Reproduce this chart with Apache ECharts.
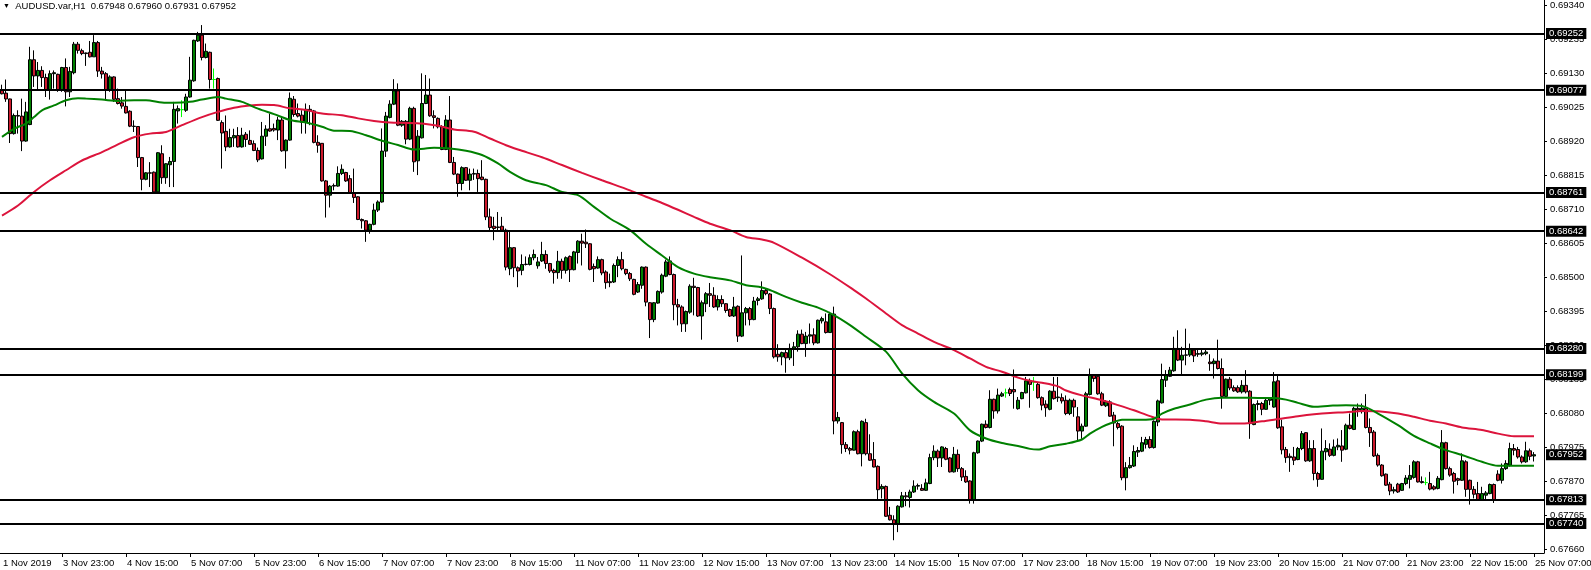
<!DOCTYPE html>
<html><head><meta charset="utf-8">
<script src="https://cdn.jsdelivr.net/npm/echarts@6/dist/echarts.min.js"></script>
<style>html,body{margin:0;padding:0;background:#fff}#c{width:1591px;height:570px}</style>
</head><body><div id="c"></div>
<script>
// Prices in points (1 point = 0.00001)
const symbolName = 'AUDUSD.var,H1';
const opens = [
69077,69068,69050,68943,68999,68997,68920,68971,69171,69121,
69138,69116,69077,69128,69126,69077,69147,69072,69131,69219,
69199,69192,69194,69180,69224,69136,69128,69077,69118,69051,
69038,69027,69012,68966,68965,68869,68802,68822,68824,68763,
68881,68807,68847,68857,69013,69017,69015,69056,69106,69229,
69247,69178,69194,69110,69113,68977,68950,68902,68930,68937,
68902,68941,68922,68912,68891,68865,68935,68958,68959,68954,
68985,68890,68923,69049,69005,69000,68978,69018,69013,68916,
68913,68797,68753,68781,68781,68820,68823,68804,68760,68748,
68678,68674,68645,68663,68707,68732,68889,68993,69034,69075,
68969,68981,68926,69021,68859,68930,69036,69062,68998,68990,
68964,68894,68985,68854,68818,68789,68838,68799,68818,68820,
68809,68802,68686,68657,68655,68657,68645,68526,68591,68529,
68521,68539,68539,68560,68535,68550,68570,68542,68521,68514,
68549,68521,68564,68523,68576,68611,68608,68603,68533,68528,
68554,68516,68486,68485,68536,68554,68524,68511,68493,68454,
68475,68531,68421,68369,68420,68454,68503,68550,68508,68415,
68408,68356,68392,68472,68468,68380,68418,68449,68444,68408,
68431,68418,68400,68380,68410,68318,68390,68403,68369,68428,
68433,68459,68448,68403,68262,68254,68267,68251,68280,68285,
68324,68295,68318,68322,68297,68365,68362,68329,68386,68056,
68051,67983,67971,67966,68023,67955,68051,67955,67937,67916,
67847,67854,67765,67751,67739,67791,67825,67820,67837,67855,
67848,67842,67863,67943,67963,67942,67971,67942,67899,67953,
67909,67885,67871,67811,67958,67994,68046,68036,68123,68087,
68133,68143,68153,68153,68094,68125,68143,68180,68176,68169,
68128,68108,68092,68148,68128,68128,68120,68079,68120,68069,
68025,68040,68138,68197,68194,68140,68103,68115,68074,68048,
68040,67881,67912,67917,67960,67963,67984,67999,67974,68053,
68112,68182,68194,68211,68280,68244,68259,68260,68275,68262,
68262,68264,68238,68233,68241,68218,68132,68185,68159,68159,
68146,68166,68148,68045,68107,68110,68092,68120,68099,68180,
68038,67968,67947,67945,67937,67971,68020,67933,67971,67894,
67876,67961,67969,67950,67976,67979,67969,68043,68030,68095,
68085,68095,68036,68022,67950,67920,67892,67861,67840,67861,
67842,67863,67876,67882,67930,67869,67866,67863,67853,67848,
67875,67989,67909,67894,67878,67873,67930,67873,67845,67832,
67812,67827,67832,67860,67892,67873,67909,67920,67971,67968,
67945,67930,67964,67948];
const highs = [
69094,69110,69051,69005,69015,69051,69041,69211,69200,69164,
69151,69128,69138,69138,69128,69149,69175,69149,69226,69226,
69205,69193,69229,69247,69229,69149,69133,69123,69120,69082,
69056,69075,69015,68984,68966,68871,68824,68855,68826,68886,
68907,68852,68871,69041,69030,69046,69066,69180,69233,69257,
69278,69221,69196,69144,69116,68984,68999,68958,68958,68963,
68961,68948,68953,68922,68900,68979,68969,69005,68974,68995,
68995,68925,69070,69059,69036,69015,69036,69031,69016,68938,
68914,68800,68784,68789,68842,68848,68825,68815,68835,68750,
68681,68676,68665,68727,68737,68959,69010,69046,69111,69098,
68985,68985,69026,69026,68954,69129,69124,69113,69015,68993,
68969,69000,69059,68871,68820,68842,68840,68835,68835,68832,
68861,68804,68712,68686,68701,68686,68650,68645,68593,68533,
68570,68564,68570,68585,68562,68609,68583,68544,68526,68581,
68557,68564,68567,68581,68614,68634,68647,68605,68542,68564,
68557,68521,68511,68542,68564,68578,68526,68516,68495,68485,
68533,68533,68423,68423,68459,68511,68554,68564,68511,68433,
68413,68397,68478,68498,68470,68428,68454,68482,68469,68444,
68444,68420,68403,68439,68413,68567,68408,68408,68439,68439,
68487,68464,68451,68406,68293,68270,68275,68295,68300,68336,
68338,68331,68357,68342,68369,68378,68388,68393,68409,68084,
68053,67991,67976,68027,68029,68058,68063,68015,67991,67919,
67861,67857,67791,67765,67796,67837,67837,67844,67873,67863,
67861,67878,67955,67981,67968,67978,67976,67945,67976,67968,
67914,67904,67873,67961,67996,68048,68058,68151,68125,68156,
68146,68156,68159,68215,68130,68146,68192,68187,68192,68176,
68132,68120,68151,68192,68192,68141,68135,68125,68125,68099,
68048,68146,68218,68199,68197,68146,68120,68120,68084,68053,
68043,67929,67945,67981,67976,68007,68007,68009,68058,68122,
68233,68213,68223,68316,68336,68285,68341,68295,68280,68277,
68277,68280,68262,68249,68307,68249,68187,68192,68166,68166,
68182,68213,68151,68110,68120,68115,68128,68128,68207,68197,
68060,67976,67956,67976,67976,68025,68022,67997,67997,67899,
68033,67997,67987,67999,68002,68028,68048,68079,68100,68110,
68110,68139,68064,68028,67956,67923,67894,67868,67853,67865,
67865,67889,67920,67935,67933,67885,67882,67899,67858,67886,
68028,67992,67915,67899,67881,67956,67935,67875,67855,67868,
67853,67840,67863,67863,67904,67925,67935,67989,67985,67976,
67950,67992,67971,67960];
const lows = [
69064,69041,68914,68940,68943,68889,68918,68969,69087,69077,
69087,69056,69048,69082,69072,69072,69027,69056,69126,69190,
69185,69152,69178,69180,69118,69113,69046,69072,69041,69033,
69020,69005,68963,68948,68840,68768,68799,68778,68760,68760,
68788,68788,68778,68778,68974,68994,69010,69054,69103,69226,
69169,69175,69082,69082,68982,68835,68889,68900,68902,68900,
68900,68902,68908,68889,68855,68863,68905,68949,68949,68923,
68887,68835,68921,68995,68993,68943,68943,68969,68913,68884,
68795,68684,68715,68768,68779,68815,68794,68758,68729,68676,
68650,68609,68634,68660,68701,68730,68871,68990,69031,68966,
68964,68910,68923,68825,68815,68928,69034,68995,68959,68959,
68892,68892,68852,68815,68748,68768,68797,68768,68800,68763,
68799,68676,68645,68614,68645,68640,68521,68506,68500,68469,
68506,68536,68536,68552,68526,68547,68526,68513,68480,68495,
68495,68511,68485,68521,68542,68536,68590,68521,68485,68526,
68506,68464,68469,68482,68500,68521,68506,68488,68444,68451,
68464,68410,68312,68361,68418,68449,68500,68506,68367,68351,
68331,68331,68387,68382,68377,68307,68392,68408,68405,68397,
68408,68390,68377,68377,68300,68315,68351,68351,68367,68413,
68430,68444,68386,68249,68239,68228,68205,68244,68226,68270,
68293,68254,68295,68290,68295,68357,68326,68328,68015,68048,
67955,67960,67953,67965,67953,67916,67950,67933,67913,67813,
67817,67760,67749,67688,67713,67789,67793,67789,67834,67844,
67840,67840,67861,67935,67914,67914,67935,67897,67897,67899,
67871,67865,67801,67801,67955,67991,68033,68033,68063,68079,
68130,68128,68133,68094,68091,68123,68141,68097,68149,68125,
68089,68069,68089,68122,68115,68110,68074,68074,68069,67996,
68001,68038,68135,68177,68137,68102,68099,68069,67978,68030,
67873,67842,67909,67914,67945,67960,67971,67971,67971,68040,
68110,68161,68192,68208,68241,68200,68228,68254,68238,68254,
68256,68259,68211,68187,68215,68094,68130,68151,68146,68143,
68141,68141,68001,68043,68089,68074,68091,68105,68097,68032,
67953,67927,67899,67920,67935,67966,67930,67930,67873,67853,
67875,67935,67945,67947,67966,67930,67966,68030,68028,68069,
68079,68033,67976,67945,67915,67884,67856,67827,67832,67834,
67840,67858,67848,67878,67866,67863,67858,67842,67842,67845,
67873,67906,67884,67832,67858,67871,67822,67798,67817,67810,
67810,67812,67830,67803,67870,67863,67905,67915,67950,67940,
67925,67927,67935,67931];
const closes = [
69066,69050,68943,68999,68997,68920,69010,69171,69121,69138,
69116,69077,69128,69131,69077,69147,69072,69135,69219,69200,
69190,69190,69180,69224,69136,69127,69077,69118,69049,69036,
69028,69007,68966,68965,68869,68802,68822,68821,68763,68884,
68807,68850,68857,69018,69020,69017,69056,69108,69231,69247,
69178,69197,69110,69110,68984,68945,68902,68931,68937,68902,
68938,68925,68910,68891,68862,68935,68957,68951,68954,68985,
68890,68923,69052,69002,68997,68978,69018,69013,68916,68907,
68797,68753,68781,68783,68820,68833,68797,68760,68746,68678,
68674,68645,68663,68707,68732,68889,68997,69034,69075,68969,
68981,68926,69021,68856,68935,69036,69062,68998,68993,68964,
68894,68985,68854,68818,68789,68838,68799,68818,68820,68804,
68801,68686,68653,68650,68653,68645,68531,68591,68529,68519,
68539,68540,68560,68570,68547,68570,68542,68519,68514,68549,
68521,68560,68523,68578,68611,68605,68603,68524,68526,68554,
68513,68483,68483,68536,68554,68526,68511,68495,68447,68477,
68531,68423,68369,68421,68456,68506,68547,68508,68415,68408,
68356,68394,68472,68468,68380,68421,68449,68444,68408,68431,
68418,68397,68380,68408,68318,68390,68403,68369,68426,68433,
68459,68449,68403,68254,68254,68267,68251,68280,68285,68324,
68295,68318,68322,68297,68367,68372,68329,68386,68056,68067,
67983,67971,67966,68023,67955,68055,67955,67935,67914,67844,
67854,67762,67751,67739,67793,67825,67822,67837,67855,67857,
67842,67865,67943,67963,67942,67976,67938,67899,67953,67909,
67883,67868,67811,67958,67994,68046,68036,68123,68087,68136,
68140,68143,68141,68146,68120,68144,68180,68169,68176,68128,
68105,68097,68148,68125,68130,68118,68079,68120,68099,68025,
68040,68140,68197,68187,68140,68105,68115,68071,68050,68036,
67881,67912,67919,67962,67965,67989,67999,67974,68055,68118,
68184,68197,68213,68280,68244,68259,68260,68278,68257,68264,
68266,68269,68233,68241,68218,68132,68185,68158,68149,68146,
68166,68146,68048,68107,68110,68092,68120,68125,68177,68035,
67967,67943,67943,67935,67971,68017,67933,67971,67894,67876,
67963,67971,67950,67976,67981,67966,68043,68033,68095,68090,
68095,68036,68020,67948,67920,67887,67858,67840,67844,67837,
67863,67880,67888,67930,67868,67866,67866,67846,67846,67879,
67989,67909,67889,67870,67873,67933,67845,67845,67830,67812,
67832,67834,67860,67812,67873,67909,67925,67971,67966,67945,
67930,67964,67947,67952];

// Moving averages: [bar index, points]
const maFast = [[0,68933],[3,68958],[6,68974],[8,68994],[10,69015],[13,69030],[16,69046],[19,69052],[21,69051],[25,69048],[29,69044],[33,69046],[36,69046],[40,69039],[43,69038],[47,69041],[50,69048],[54,69056],[56,69051],[60,69041],[64,69020],[68,69003],[72,68985],[76,68977],[80,68964],[83,68952],[87,68951],[91,68938],[95,68921],[99,68908],[103,68894],[108,68899],[112,68897],[116,68890],[120,68877],[124,68851],[127,68825],[131,68799],[136,68784],[140,68763],[144,68753],[148,68717],[152,68681],[157,68645],[161,68603],[165,68567],[169,68531],[173,68511],[177,68500],[182,68490],[186,68475],[190,68468],[193,68455],[196,68439],[200,68421],[204,68406],[208,68383],[212,68352],[216,68316],[221,68270],[225,68203],[229,68151],[233,68115],[238,68079],[242,68027],[246,68002],[250,67988],[254,67979],[257,67970],[259,67968],[262,67978],[266,67986],[270,67999],[272,68017],[275,68038],[278,68053],[280,68060],[285,68060],[288,68063],[290,68079],[293,68094],[297,68107],[301,68122],[305,68128],[310,68128],[314,68127],[318,68127],[321,68122],[324,68112],[328,68100],[332,68103],[336,68105],[340,68102],[344,68079],[349,68043],[353,68010],[357,67987],[361,67966],[365,67951],[370,67930],[374,67918],[378,67918],[383,67918]];
const maSlow = [[0,68690],[4,68721],[8,68763],[12,68799],[16,68830],[20,68860],[25,68886],[29,68910],[33,68932],[37,68943],[41,68948],[45,68969],[50,68994],[54,69010],[58,69023],[62,69030],[65,69032],[68,69031],[72,69021],[76,69016],[80,69005],[85,69000],[89,68990],[93,68982],[97,68977],[101,68976],[105,68974],[109,68967],[113,68956],[118,68949],[122,68928],[126,68907],[129,68894],[135,68870],[140,68846],[145,68822],[150,68799],[157,68768],[161,68748],[165,68729],[169,68708],[173,68686],[177,68665],[182,68645],[186,68624],[190,68616],[193,68606],[200,68560],[207,68509],[213,68460],[216,68434],[221,68388],[225,68352],[229,68326],[233,68300],[238,68275],[242,68249],[246,68223],[250,68208],[254,68190],[257,68180],[260,68174],[264,68163],[266,68150],[270,68135],[275,68120],[279,68105],[283,68089],[287,68071],[290,68061],[297,68060],[301,68055],[305,68048],[310,68048],[315,68055],[319,68062],[324,68071],[328,68077],[332,68081],[336,68083],[340,68087],[344,68086],[349,68079],[353,68069],[357,68057],[361,68048],[365,68036],[370,68028],[374,68017],[378,68009],[383,68009]];

const levels = [0.69252, 0.69077, 0.68761, 0.68642, 0.68280, 0.68199, 0.67813, 0.67740];
const yTicks = [0.67660,0.67765,0.67870,0.67975,0.68080,0.68185,0.68290,0.68395,0.68500,0.68605,0.68710,0.68815,0.68920,0.69025,0.69130,0.69235,0.69340];
const tickLabels = ['1 Nov 2019','3 Nov 23:00','4 Nov 15:00','5 Nov 07:00','5 Nov 23:00','6 Nov 15:00','7 Nov 07:00','7 Nov 23:00','8 Nov 15:00','11 Nov 07:00','11 Nov 23:00','12 Nov 15:00','13 Nov 07:00','13 Nov 23:00','14 Nov 15:00','15 Nov 07:00','17 Nov 23:00','18 Nov 15:00','19 Nov 07:00','19 Nov 23:00','20 Nov 15:00','21 Nov 07:00','21 Nov 23:00','22 Nov 15:00','25 Nov 07:00'];

const P = v => v / 100000;
const N = opens.length;
const ohlc = opens.map((o, i) => [P(o), P(closes[i]), P(lows[i]), P(highs[i])]);
function labelFor(i) {
  if (i === 0) return tickLabels[0];
  if (i >= 15 && (i - 15) % 16 === 0) { const k = (i - 15) / 16 + 1; return tickLabels[k] || ''; }
  return '';
}
const cats = [];
for (let i = 0; i < N + 2; i++) cats.push(String(i));
const last = N - 1;
const FONT = 'Liberation Sans';
const header = '{t|\u25BC}  ' + symbolName + '  ' + [opens[last], highs[last], lows[last], closes[last]].map(v => P(v).toFixed(5)).join(' ');
const boxLabel = {show: true, position: 'end', distance: 2, formatter: p => Number(p.value).toFixed(5),
  color: '#fff', backgroundColor: '#000', padding: [1, 3, 0, 3], fontSize: 9.5, fontFamily: FONT};

const chart = echarts.init(document.getElementById('c'), null, {renderer: 'canvas'});
chart.setOption({
  animation: false,
  backgroundColor: '#fff',
  title: {
    text: header, left: 3, top: 0, padding: 0,
    textStyle: {fontSize: 9.5, fontFamily: FONT, color: '#000', fontWeight: 'normal', lineHeight: 12,
      rich: {t: {fontSize: 7, fontFamily: FONT, color: '#000'}}}
  },
  grid: {left: 0, top: 0, width: 1544, height: 553, containLabel: false, outerBoundsMode: 'none'},
  xAxis: {
    type: 'category', data: cats, boundaryGap: true,
    axisLine: {show: true, lineStyle: {color: '#000', width: 1}},
    axisTick: {show: true, alignWithLabel: true, length: 4, lineStyle: {color: '#000'},
      interval: (idx) => idx > 0 && labelFor(idx) !== ''},
    axisLabel: {show: true, interval: (idx) => labelFor(idx) !== '', formatter: (v, idx) => labelFor(idx),
      align: 'left', padding: [0, 0, 0, 1], margin: 5, color: '#000', fontSize: 9.5, fontFamily: FONT},
    splitLine: {show: false}
  },
  yAxis: {
    type: 'value', position: 'right', min: 0.676486, max: 0.693554, scale: true,
    axisLine: {show: true, lineStyle: {color: '#000', width: 1}},
    axisTick: {show: true, length: 3, lineStyle: {color: '#000'}, customValues: yTicks},
    axisLabel: {show: true, customValues: yTicks, formatter: v => Number(v).toFixed(5), margin: 6,
      color: '#000', fontSize: 9.5, fontFamily: FONT},
    splitLine: {show: false}
  },
  series: [
    {
      type: 'candlestick', data: ohlc, barWidth: 3, silent: true, z: 2,
      itemStyle: {color: '#008000', color0: '#cc1a2c', borderColor: '#000', borderColor0: '#000',
        borderColorDoji: '#00ff00', borderWidth: 1},
      emphasis: {disabled: true},
      markLine: {
        symbol: ['none', 'none'], silent: true, animation: false, precision: 5,
        lineStyle: {color: '#000', width: 2, type: 'solid'},
        label: boxLabel,
        emphasis: {disabled: true},
        data: levels.map(v => ({yAxis: v}))
      }
    },
    {
      type: 'line', data: [], silent: true,
      markLine: {
        symbol: ['none', 'none'], silent: true, animation: false, precision: 5,
        lineStyle: {color: 'rgba(0,0,0,0)', width: 0},
        label: boxLabel,
        emphasis: {disabled: true},
        data: [{yAxis: P(closes[last])}]
      }
    },
    {type: 'line', data: maSlow.map(d => [d[0], P(d[1])]), symbol: 'none', smooth: 0.3, silent: true, z: 3,
      lineStyle: {color: '#dc143c', width: 2}},
    {type: 'line', data: maFast.map(d => [d[0], P(d[1])]), symbol: 'none', smooth: 0.3, silent: true, z: 3,
      lineStyle: {color: '#008000', width: 2}}
  ]
});
</script></body></html>
